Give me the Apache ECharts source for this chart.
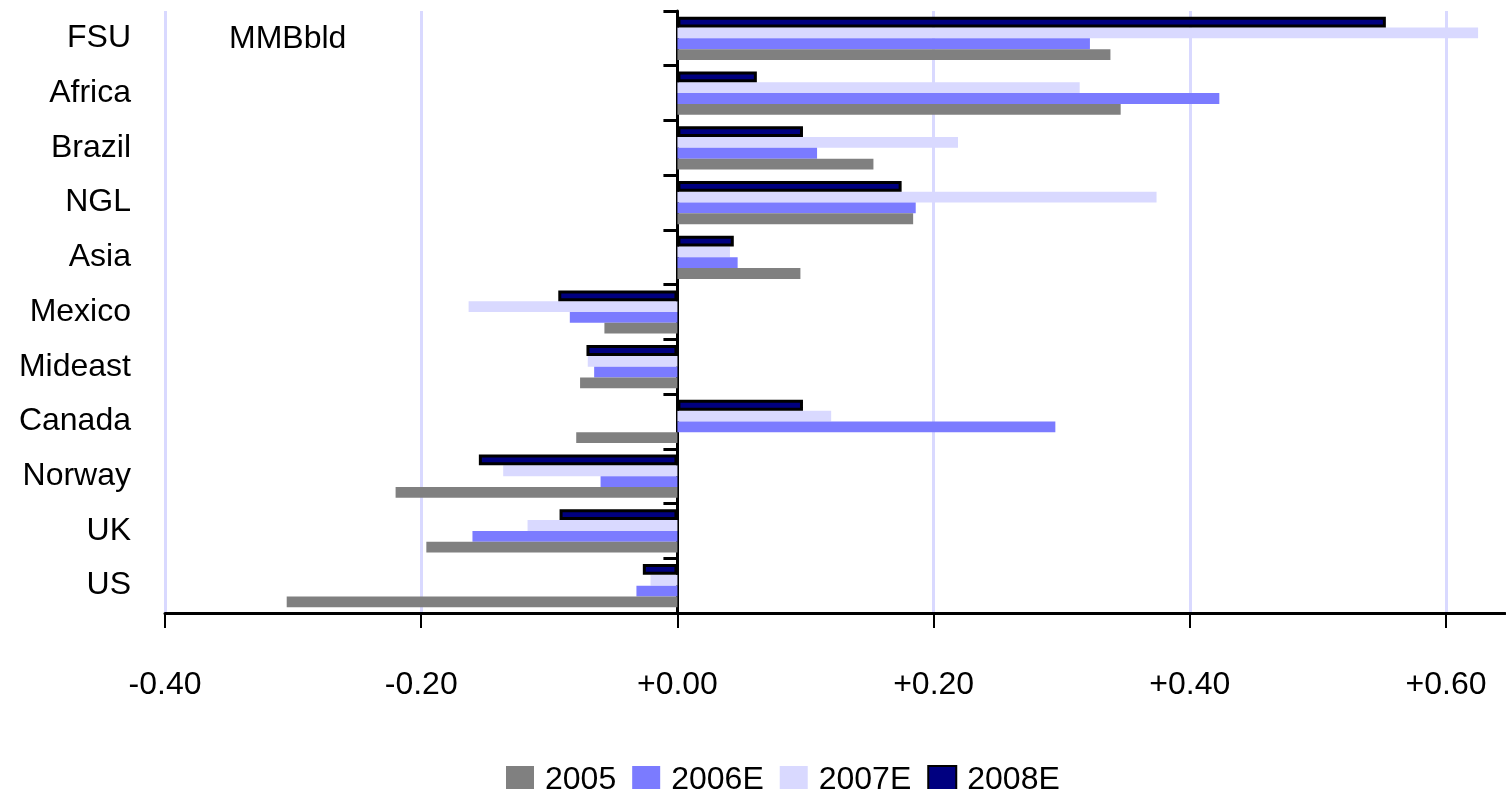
<!DOCTYPE html>
<html>
<head>
<meta charset="utf-8">
<script src="https://cdn.jsdelivr.net/npm/echarts@6/dist/echarts.min.js"></script>
<style>
  html, body { margin: 0; padding: 0; background: #ffffff; }
  #chart { width: 1506px; height: 789px; }
</style>
</head>
<body>
<div id="chart"></div>
<script>
// Supply growth by region, MMB/d change year on year
const regions = ['FSU', 'Africa', 'Brazil', 'NGL', 'Asia', 'Mexico', 'Mideast', 'Canada', 'Norway', 'UK', 'US'];
const v2005  = [0.338, 0.346, 0.153, 0.184, 0.096, -0.057, -0.076, -0.079, -0.220, -0.196, -0.305];
const v2006E = [0.322, 0.423, 0.109, 0.186, 0.047, -0.084, -0.065,  0.295, -0.060, -0.160, -0.032];
const v2007E = [0.625, 0.314, 0.219, 0.374, 0.041, -0.163, -0.070,  0.120, -0.136, -0.117, -0.021];
const v2008E = [0.553, 0.062, 0.098, 0.175, 0.044, -0.093, -0.071,  0.098, -0.155, -0.092, -0.027];
const seriesNames = ['2005', '2006E', '2007E', '2008E'];
const xTicks = [-0.4, -0.2, 0, 0.2, 0.4, 0.6];
const unitLabel = 'MMBbld';

const FONT = "'Liberation Sans', Arial, sans-serif";

const chart = echarts.init(document.getElementById('chart'), null, { renderer: 'canvas' });

function fmtTick(v) {
  const s = Math.abs(v).toFixed(2);
  return (v < -1e-9 ? '-' : '+') + s;
}

const barCommon = { type: 'bar', yAxisIndex: 0, barGap: '0%', barCategoryGap: '21%' };

const option = {
  backgroundColor: '#ffffff',
  animation: false,
  textStyle: { fontFamily: FONT },
  graphic: [{
    type: 'text',
    left: 229,
    top: 23,
    style: { text: unitLabel, font: '32px ' + FONT, fill: '#000' }
  }],
  legend: {
    data: seriesNames,
    left: 501,
    top: 759,
    itemWidth: 28,
    itemHeight: 28,
    itemGap: 16,
    icon: 'rect',
    textStyle: { fontSize: 32, fontFamily: FONT, color: '#000', padding: [0, 0, 6, 6] }
  },
  grid: {
    left: 165,
    right: 1,
    top: 11,
    bottom: 176,
    containLabel: false,
    outerBoundsMode: 'none'
  },
  xAxis: {
    type: 'value',
    min: -0.4,
    max: 0.646,
    position: 'bottom',
    axisLine: { show: true, onZero: false, lineStyle: { color: '#000', width: 3 } },
    axisTick: { show: true, length: 15, customValues: xTicks, lineStyle: { color: '#000', width: 2 } },
    axisLabel: {
      customValues: xTicks,
      formatter: fmtTick,
      fontSize: 32,
      fontFamily: FONT,
      color: '#000',
      margin: 56
    },
    splitLine: { show: true, lineStyle: { color: '#d9d9ff', width: 3 } }
  },
  yAxis: [
    {
      type: 'category',
      data: regions,
      inverse: true,
      position: 'left',
      axisLine: { show: false, onZero: false },
      axisTick: { show: false },
      axisLabel: { fontSize: 32, fontFamily: FONT, color: '#000', margin: 34 },
      splitLine: { show: false }
    },
    {
      type: 'category',
      data: regions,
      inverse: true,
      position: 'left',
      axisLine: { show: true, onZero: true, lineStyle: { color: '#000', width: 3 } },
      axisTick: { show: true, length: 14, lineStyle: { color: '#000', width: 3 } },
      axisLabel: { show: false },
      splitLine: { show: false }
    }
  ],
  // listed top-to-bottom within each region; 2008E kept above its neighbour so its outline shows
  series: [
    Object.assign({}, barCommon, {
      name: '2008E', data: v2008E, z: 3,
      itemStyle: { color: '#000080', borderColor: '#000', borderWidth: 3 }
    }),
    Object.assign({}, barCommon, {
      name: '2007E', data: v2007E,
      itemStyle: { color: '#d9d9ff' }
    }),
    Object.assign({}, barCommon, {
      name: '2006E', data: v2006E,
      itemStyle: { color: '#7b7bff' }
    }),
    Object.assign({}, barCommon, {
      name: '2005', data: v2005,
      itemStyle: { color: '#808080' }
    })
  ]
};

chart.setOption(option);
</script>
</body>
</html>
